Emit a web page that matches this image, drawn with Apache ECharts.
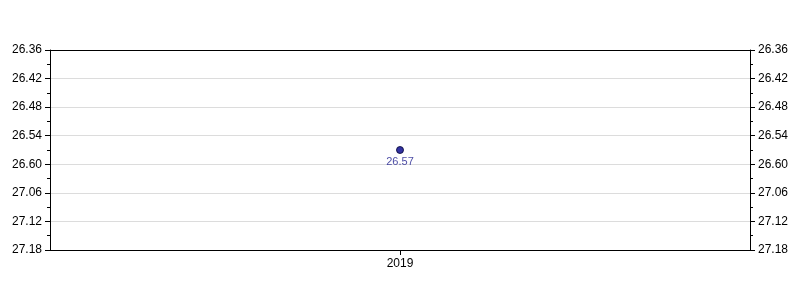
<!DOCTYPE html>
<html>
<head>
<meta charset="utf-8">
<script src="https://cdn.jsdelivr.net/npm/echarts@6/dist/echarts.min.js"></script>
<style>html,body{margin:0;padding:0;background:#fff}#c{width:800px;height:300px}</style>
</head>
<body>
<div id="c"></div>
<script>
const categories = ['2019'];
// times in seconds (26:57 -> 1617)
const timeValues = [1617];
const pointLabels = ['26.57'];
const yTickLabels = ['26.36','26.42','26.48','26.54','26.60','27.06','27.12','27.18'];
const yMin = 1596, yMax = 1638, yStep = 6;

const chart = echarts.init(document.getElementById('c'), null, {renderer: 'canvas'});
function yAxisCfg(pos) {
  return {
    type: 'value', position: pos, inverse: true,
    min: yMin, max: yMax, interval: yStep,
    axisLine: {show: true, lineStyle: {color: '#000', width: 1}},
    axisTick: {show: true, length: 5, lineStyle: {color: '#000'}},
    minorTick: {show: true, splitNumber: 2, length: 3, lineStyle: {color: '#000'}},
    axisLabel: {
      color: '#000', fontFamily: 'Liberation Sans, Arial', fontSize: 12, margin: 8,
      formatter: v => yTickLabels[Math.round((v - yMin) / yStep)]
    },
    splitLine: {show: pos === 'left', lineStyle: {color: '#dcdcdc', width: 1}}
  };
}
chart.setOption({
  animation: false,
  grid: {left: 50, right: 50, top: 50, bottom: 50},
  xAxis: [{
    type: 'category', data: categories, boundaryGap: true, position: 'bottom',
    axisLine: {show: true, lineStyle: {color: '#000'}},
    axisTick: {show: true, alignWithLabel: true, length: 5, lineStyle: {color: '#000'}},
    axisLabel: {color: '#000', fontFamily: 'Liberation Sans, Arial', fontSize: 12, margin: 8},
    splitLine: {show: false}
  }, {
    type: 'category', data: categories, boundaryGap: true, position: 'top',
    axisLine: {show: true, lineStyle: {color: '#000'}},
    axisTick: {show: false}, axisLabel: {show: false}, splitLine: {show: false}
  }],
  yAxis: [yAxisCfg('left'), yAxisCfg('right')],
  series: [{
    type: 'scatter',
    yAxisIndex: 0,
    data: timeValues,
    symbol: 'circle', symbolSize: 7,
    itemStyle: {color: '#00008b', borderColor: '#000033', borderWidth: 1},
    label: {
      show: true, position: 'bottom', distance: 2,
      color: '#1a1a8c', fontFamily: 'Liberation Sans, Arial', fontSize: 11,
      formatter: p => pointLabels[p.dataIndex]
    }
  }]
});
</script>
</body>
</html>
